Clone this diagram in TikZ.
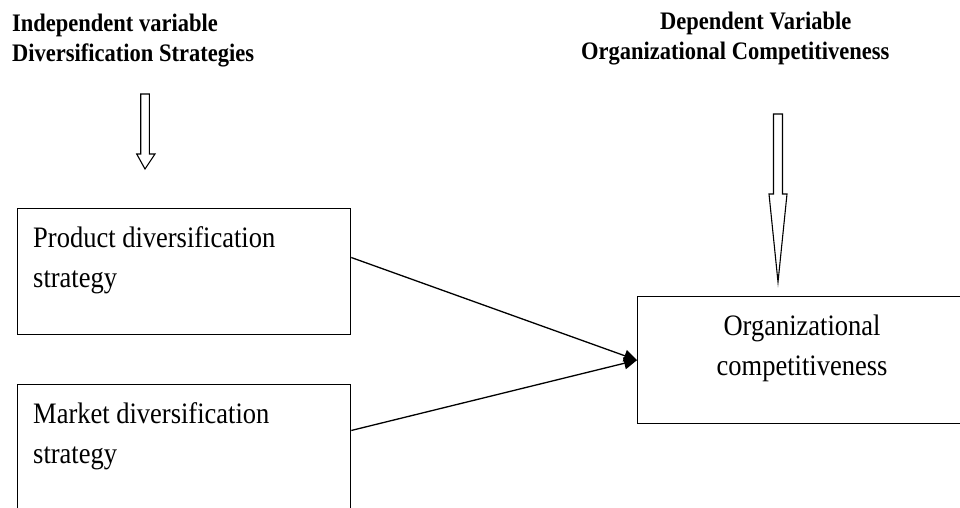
\documentclass[tikz,border=0pt]{standalone}
\usepackage{fontspec}
\setmainfont{Liberation Serif}
\usepackage{graphicx}
\usetikzlibrary{arrows.meta}
\newcommand\vstretch[1]{\scalebox{1}[1.12]{#1}}
\begin{document}
\begin{tikzpicture}[x=1pt,y=-1pt,
  box/.style={draw, line width=1.3pt, inner sep=0pt},
  ttl/.style={inner sep=0pt, anchor=base west, font=\fontsize{22.5}{27}\selectfont\bfseries},
  body/.style={inner sep=0pt, font=\fontsize{26.5}{36.6}\selectfont},
  conn/.style={line width=1.3pt, -{Triangle[length=13pt,width=12pt]}},
  blockarrow/.style={draw, line width=1.1pt, fill=white, line join=miter}]
\useasboundingbox (0,0) rectangle (960,508);
\clip (0,0) rectangle (960,508);

% titles
\node[ttl] (iv1) at (12,31.5) {\vstretch{Independent variable}};
\node[ttl] (iv2) at (12,61.5) {\vstretch{Diversification Strategies}};
\node[ttl] (dv1) at (660,30) {\vstretch{Dependent Variable}};
\node[ttl] (dv2) at (581,60) {\vstretch{Organizational Competitiveness}};

% block arrows
\draw[blockarrow] (140.7,94) -- (149.3,94) -- (149.3,154) -- (155,154) -- (145,169) -- (136.7,154) -- (140.7,154) -- cycle;
\draw[blockarrow] (773.5,114) -- (782.5,114) -- (782.5,194) -- (787,194) -- (778,282) -- (769,194) -- (773.5,194) -- cycle;

% boxes
\node[box, minimum width=333pt, minimum height=126pt, anchor=north west] (prod) at (17,208) {};
\node[box, minimum width=333pt, minimum height=126pt, anchor=north west] (mkt) at (17,384) {};
\node[box, minimum width=330pt, minimum height=127pt, anchor=north west] (org) at (637,296) {};

% box texts
\node[body, anchor=base west] (prodtxt) at (33,247) {\vstretch{\begin{tabular}[t]{@{}l@{}}Product diversification\\strategy\end{tabular}}};
\node[body, anchor=base west] (mkttxt) at (33,423) {\vstretch{\begin{tabular}[t]{@{}l@{}}Market diversification\\strategy\end{tabular}}};
\node[body, anchor=base] (orgtxt) at (802,335) {\vstretch{\begin{tabular}[t]{@{}c@{}}Organizational\\competitiveness\end{tabular}}};

% connectors
\path (prod.north east) -- (prod.south east) coordinate[pos=0.389] (s1);
\path (mkt.north east) -- (mkt.south east) coordinate[pos=0.365] (s2);
\draw[conn] (s1) -- (org.west);
\draw[conn] (s2) -- (org.west);
\end{tikzpicture}
\end{document}
